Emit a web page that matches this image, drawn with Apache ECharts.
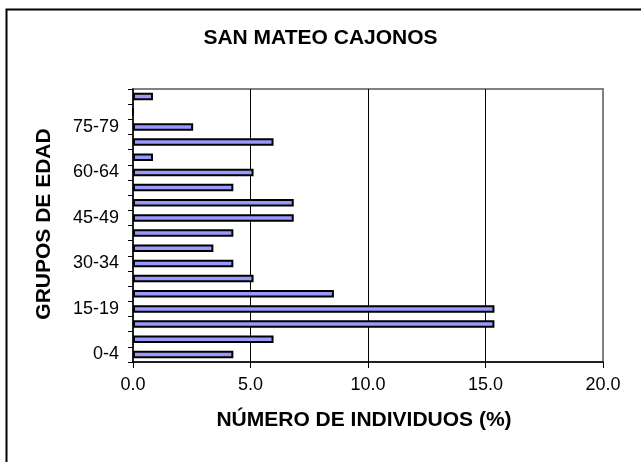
<!DOCTYPE html>
<html>
<head>
<meta charset="utf-8">
<script src="https://cdn.jsdelivr.net/npm/echarts@6/dist/echarts.min.js"></script>
<style>
  html, body { margin: 0; padding: 0; background: #ffffff; }
  #chart { width: 641px; height: 462px; }
</style>
</head>
<body>
<div id="chart"></div>
<script>
// grupos de edad (de abajo hacia arriba)
const ageGroups = ['0-4', '5-9', '10-14', '15-19', '20-24', '25-29', '30-34', '35-39', '40-44',
  '45-49', '50-54', '55-59', '60-64', '65-69', '70-74', '75-79', '80-84', '85+'];
// porcentaje de individuos por grupo
const percent = [4.27, 5.98, 15.38, 15.38, 8.55, 5.13, 4.27, 3.42, 4.27,
  6.84, 6.84, 4.27, 5.13, 0.85, 5.98, 2.56, 0, 0.85];
// marcas del eje x
const xTicks = [0, 5, 10, 15, 20];

const font = 'Liberation Sans, Arial, sans-serif';
const chart = echarts.init(document.getElementById('chart'));

const option = {
  backgroundColor: '#ffffff',
  animation: false,
  grid: {
    left: 133, top: 89, width: 470, height: 273,
    show: true, borderColor: '#808080', borderWidth: 2, backgroundColor: 'transparent'
  },
  xAxis: {
    type: 'value',
    min: xTicks[0],
    max: xTicks[xTicks.length - 1],
    interval: xTicks[1] - xTicks[0],
    axisLine: { show: true, lineStyle: { color: '#000', width: 1.5 } },
    axisTick: { show: true, length: 6, lineStyle: { color: '#000' } },
    axisLabel: {
      margin: 14, fontSize: 18, color: '#000', fontFamily: font,
      formatter: v => v.toFixed(1)
    },
    splitLine: { show: true, showMinLine: false, showMaxLine: false, lineStyle: { color: '#000', width: 1 } }
  },
  yAxis: {
    type: 'category',
    data: ageGroups,
    axisLine: { show: true, lineStyle: { color: '#000', width: 1.5 } },
    axisTick: { show: true, interval: 0, length: 5, lineStyle: { color: '#000' } },
    axisLabel: { interval: 2, margin: 14, fontSize: 18, color: '#000', fontFamily: font }
  },
  series: [{
    type: 'bar',
    data: percent,
    barWidth: 7.5,
    itemStyle: { color: '#9999ff', borderColor: '#000', borderWidth: 2 }
  }],
  graphic: [
    {
      type: 'rect', silent: true, z: -1,
      shape: { x: 6.5, y: 9.5, width: 700, height: 600 },
      style: { fill: 'none', stroke: '#000', lineWidth: 2 }
    },
    {
      type: 'text', left: 'center', top: 28,
      style: { text: 'SAN MATEO CAJONOS', font: 'bold 21px ' + font, fill: '#000' }
    },
    {
      type: 'text', x: 364, y: 420,
      style: { text: 'NÚMERO DE INDIVIDUOS (%)', font: 'bold 21px ' + font, fill: '#000',
        textAlign: 'center', textVerticalAlign: 'middle' }
    },
    {
      type: 'text', x: 44, y: 224, rotation: Math.PI / 2,
      style: { text: 'GRUPOS DE EDAD', font: 'bold 21px ' + font, fill: '#000',
        textAlign: 'center', textVerticalAlign: 'middle' }
    }
  ]
};

chart.setOption(option);
</script>
</body>
</html>
